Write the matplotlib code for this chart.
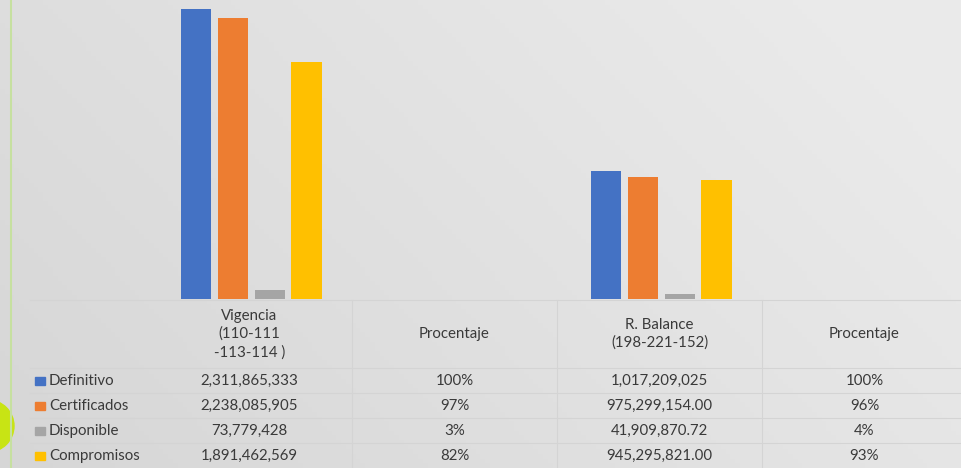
import matplotlib.pyplot as plt
import matplotlib.transforms as mtransforms
from matplotlib.patches import Ellipse, Rectangle
import numpy as np

plt.rcParams['font.family'] = ['Lato', 'DejaVu Sans']

# data
categories = ['Vigencia\n(110-111\n-113-114 )', 'Procentaje', 'R. Balance\n(198-221-152)', 'Procentaje']
series = ['Definitivo', 'Certificados', 'Disponible', 'Compromisos']
colors = ['#4472c4', '#ed7d31', '#a5a5a5', '#ffc000']
values = {
    'Definitivo':   [2311865333, 1.00, 1017209025, 1.00],
    'Certificados': [2238085905, 0.97, 975299154.00, 0.96],
    'Disponible':   [73779428, 0.03, 41909870.72, 0.04],
    'Compromisos':  [1891462569, 0.82, 945295821.00, 0.93],
}
labels = {
    'Definitivo':   ['2,311,865,333', '100%', '1,017,209,025', '100%'],
    'Certificados': ['2,238,085,905', '97%', '975,299,154.00', '96%'],
    'Disponible':   ['73,779,428', '3%', '41,909,870.72', '4%'],
    'Compromisos':  ['1,891,462,569', '82%', '945,295,821.00', '93%'],
}

W, H = 961, 468
fig = plt.figure(figsize=(W / 100, H / 100), dpi=100)

# background gradient (darker at left)
bg = fig.add_axes([0, 0, 1, 1], zorder=-10)
gx, gy = np.meshgrid(np.linspace(0, 1, 200), np.linspace(0, 1, 100))
grad = 0.84 + 0.08 * np.clip(0.75 * gx + 0.35 * gy, 0, 1)
bg.imshow(np.dstack([grad] * 3), aspect='auto', extent=[0, 1, 0, 1], origin='lower')
bg.set_xlim(0, 1)
bg.set_ylim(0, 1)
bg.axis('off')

# left decoration
fig.add_artist(plt.Line2D([11 / W, 11 / W], [0, 1], color='#c6e0a0', lw=1.5))
fig.add_artist(Ellipse((-12 / W, 1 - 426 / H), 52 / W, 52 / H, color='#c8e414',
                       transform=fig.transFigure))

# plot area
x0, x1, ybase = 147, 967, 299
ax = fig.add_axes([x0 / W, 1 - ybase / H, (x1 - x0) / W, ybase / H])
ax.set_facecolor('none')
ax.set_xlim(-0.5, 3.5)
ax.set_ylim(0, 2311865333 * ybase / 290)
for s in ax.spines.values():
    s.set_visible(False)
ax.set_xticks([])
ax.set_yticks([])

x = np.arange(len(categories))
step = 0.18
bw = 0.147
for i, name in enumerate(series):
    ax.bar(x + (i - 1.5) * step + 0.008, values[name], width=bw, color=colors[i])

# data table
tr = mtransforms.blended_transform_factory(ax.transData, fig.transFigure)
line_col = '#d4d4d4'
row_y = [381, 406, 431, 456]
hlines = [300, 368, 393, 418, 443]
for yy in hlines:
    fig.add_artist(plt.Line2D([30 / W, 1], [1 - yy / H] * 2, color=line_col, lw=0.8))
for xv in [0.5, 1.5, 2.5]:
    ax.plot([xv, xv], [1 - 300 / H, 0], transform=tr, color=line_col, lw=0.8, clip_on=False)

fs = 10.8
txt = '#3a3a3a'
for j, cat in enumerate(categories):
    ax.text(j, 1 - 334 / H, cat, transform=tr, ha='center', va='center',
            fontsize=fs, color=txt, linespacing=1.35)
    for i, name in enumerate(series):
        ax.text(j, 1 - row_y[i] / H, labels[name][j], transform=tr, ha='center',
                va='center', fontsize=fs, color=txt)

for i, name in enumerate(series):
    yc = 1 - row_y[i] / H
    fig.add_artist(Rectangle((35 / W, yc - 4 / H), 10 / W, 8 / H, color=colors[i],
                             transform=fig.transFigure))
    fig.text(49 / W, yc, name, ha='left', va='center', fontsize=fs, color=txt)

fig.savefig('out.png', dpi=100)
